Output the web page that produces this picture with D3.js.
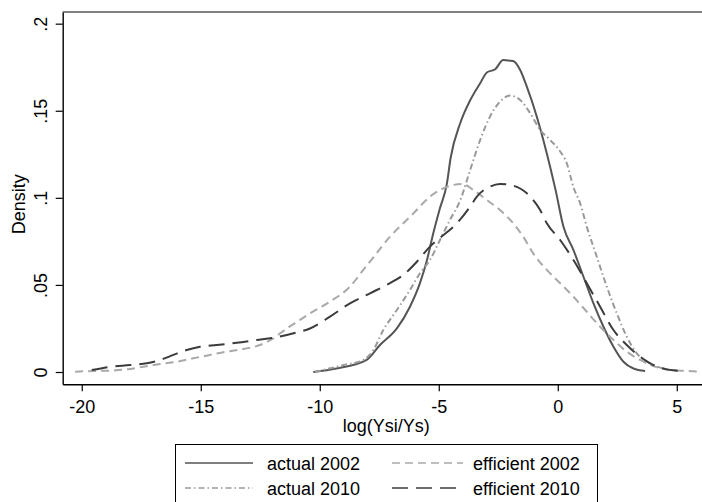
<!DOCTYPE html>
<html>
<head>
<meta charset="utf-8">
<script src="https://cdn.jsdelivr.net/npm/d3@7"></script>
<style>
  body { margin: 0; background: #fff; }
  svg { display: block; font-family: "Liberation Sans", Arial, sans-serif; }
</style>
</head>
<body>
<svg width="702" height="502"></svg>
<script>
// series (x = log(Ysi/Ys), y = density)
const actual2002X = [-10.27, -9.3, -8.03, -7.47, -6.76, -6.21, -5.79, -5.5, -5.23, -4.95, -4.66, -4.5, -4.1, -3.68, -3.26, -2.98, -2.63, -2.29, -2.08, -1.87, -1.58, -1.3, -0.88, -0.46, -0.1, 0.24, 0.66, 1.08, 1.5, 1.92, 2.34, 2.76, 3.18, 3.67];
const actual2002Y = [0, 0.002, 0.007, 0.0155, 0.025, 0.0375, 0.051, 0.064, 0.0796, 0.094, 0.108, 0.123, 0.1428, 0.156, 0.1658, 0.172, 0.1738, 0.1792, 0.1788, 0.1786, 0.1734, 0.1638, 0.1466, 0.1255, 0.105, 0.0834, 0.07, 0.0547, 0.0394, 0.026, 0.0145, 0.0059, 0.002, 0.0006];

const eff2002X = [-20.28, -19.51, -18.81, -18.11, -17.41, -16.71, -16.01, -15.31, -14.61, -13.91, -13.21, -12.51, -11.95, -11.39, -10.83, -10.41, -9.57, -8.73, -8.17, -7.61, -7.05, -6.49, -6.07, -5.37, -4.95, -4.39, -4.0, -3.55, -2.98, -2.43, -1.87, -1.45, -1.03, -0.46, 0.1, 0.66, 1.22, 1.78, 2.34, 2.9, 3.46, 4.02, 4.72, 5.42, 6.05];
const eff2002Y = [0.0002, 0.0006, 0.0008, 0.0015, 0.003, 0.0046, 0.0059, 0.0079, 0.0098, 0.0117, 0.0132, 0.0155, 0.0193, 0.025, 0.0299, 0.0337, 0.0404, 0.049, 0.0586, 0.0682, 0.0777, 0.0854, 0.091, 0.1007, 0.1045, 0.1074, 0.108, 0.1045, 0.0988, 0.093, 0.0854, 0.0777, 0.0681, 0.0586, 0.051, 0.0432, 0.0346, 0.026, 0.0184, 0.0117, 0.0069, 0.0034, 0.0011, 0.0006, 0.0002];

const actual2010X = [-10.2, -9.0, -8.17, -7.75, -7.33, -6.76, -6.21, -5.79, -5.37, -4.95, -4.53, -4.1, -3.68, -3.26, -2.85, -2.43, -2.01, -1.58, -1.16, -0.74, -0.32, 0.1, 0.38, 0.66, 0.94, 1.22, 1.64, 2.06, 2.48, 2.9, 3.32, 3.88, 4.44, 5.0];
const actual2010Y = [0, 0.004, 0.0069, 0.0126, 0.0241, 0.0356, 0.0471, 0.0567, 0.0643, 0.0758, 0.0873, 0.0985, 0.116, 0.1332, 0.1466, 0.1552, 0.1587, 0.1562, 0.1486, 0.139, 0.1332, 0.1266, 0.1198, 0.106, 0.0969, 0.0834, 0.0662, 0.049, 0.0337, 0.0203, 0.0107, 0.005, 0.002, 0.0008];

const eff2010X = [-19.58, -18.81, -17.97, -17.27, -16.71, -16.15, -15.59, -15.03, -14.33, -13.49, -12.65, -11.95, -11.1, -10.41, -9.57, -8.73, -7.89, -7.05, -6.49, -5.92, -5.37, -4.95, -4.24, -3.68, -3.4, -2.85, -2.43, -1.87, -1.3, -0.74, -0.46, 0.1, 0.66, 1.22, 1.78, 2.34, 2.9, 3.46, 4.02, 4.58, 5.28];
const eff2010Y = [0.0011, 0.003, 0.004, 0.005, 0.0069, 0.0098, 0.0126, 0.0145, 0.0155, 0.0168, 0.0184, 0.0197, 0.0222, 0.025, 0.0318, 0.0394, 0.0452, 0.051, 0.0557, 0.0633, 0.072, 0.077, 0.0854, 0.095, 0.1007, 0.1064, 0.108, 0.107, 0.1026, 0.093, 0.0854, 0.0758, 0.0643, 0.051, 0.0375, 0.0241, 0.0155, 0.0088, 0.004, 0.0015, 0.0006];

const xTicks = [-20, -15, -10, -5, 0, 5];
const yTicks = [0, 0.05, 0.1, 0.15, 0.2];
const yTickLabels = ["0", ".05", ".1", ".15", ".2"];

(() => {
    const series = [
        { name: "actual 2002", xs: actual2002X, ys: actual2002Y, color: "#555555", dash: null, width: 2 },
        { name: "efficient 2002", xs: eff2002X, ys: eff2002Y, color: "#a9a9a9", dash: "8,5", width: 2 },
        { name: "actual 2010", xs: actual2010X, ys: actual2010Y, color: "#9a9a9a", dash: "6,3,1.5,3", width: 2 },
        { name: "efficient 2010", xs: eff2010X, ys: eff2010Y, color: "#3c3c3c", dash: "16,8", width: 2 }
    ];

    let svg = d3.select("svg"),
        plotL = 62.7, plotR = 702, plotT = 12, plotB = 384.3;

    let x = d3.scaleLinear().domain([-20.8, 6.06]).range([plotL, plotR]);
    let y = d3.scaleLinear().domain([-0.00706, 0.2067]).range([plotB, plotT]);

    // top gray rule
    svg.append("line")
        .attr("x1", plotL).attr("x2", plotR)
        .attr("y1", plotT).attr("y2", plotT)
        .attr("stroke", "#808080").attr("stroke-width", 2);

    // curves
    let line = d3.line()
        .x(d => x(d[0]))
        .y(d => y(d[1]))
        .curve(d3.curveMonotoneX);

    svg.append("g")
        .selectAll("path")
        .data(series)
        .join("path")
        .attr("fill", "none")
        .attr("stroke", d => d.color)
        .attr("stroke-width", d => d.width)
        .attr("stroke-dasharray", d => d.dash)
        .attr("stroke-linejoin", "round")
        .attr("d", d => line(d.xs.map((v, i) => [v, d.ys[i]])));

    // axes
    let xAxis = svg.append("g")
        .attr("transform", `translate(0,${plotB})`)
        .call(d3.axisBottom(x).tickValues(xTicks).tickSize(7).tickSizeOuter(0));
    xAxis.select(".domain").attr("stroke", "#000").attr("stroke-width", 1.4);
    xAxis.selectAll(".tick line").attr("stroke", "#000").attr("stroke-width", 1.2);
    xAxis.selectAll(".tick text")
        .attr("font-family", "Liberation Sans, Arial, sans-serif")
        .attr("font-size", 18).attr("fill", "#000")
        .attr("y", 29).attr("dy", 0)
        .text(d => d < 0 ? "-" + Math.abs(d) : d);

    let yAxis = svg.append("g")
        .attr("transform", `translate(${plotL},0)`)
        .call(d3.axisLeft(y).tickValues(yTicks).tickSize(7).tickSizeOuter(0).tickFormat((d, i) => yTickLabels[i]));
    yAxis.select(".domain").attr("stroke", "#000").attr("stroke-width", 1.4);
    yAxis.selectAll(".tick line").attr("stroke", "#000").attr("stroke-width", 1.2);
    yAxis.selectAll(".tick text")
        .attr("font-family", "Liberation Sans, Arial, sans-serif")
        .attr("font-size", 18).attr("fill", "#000")
        .attr("transform", "rotate(-90)")
        .attr("text-anchor", "middle")
        .attr("x", 0).attr("y", -16).attr("dy", 0);

    // axis titles
    svg.append("text")
        .attr("x", (plotL + plotR) / 2 + 4).attr("y", 432)
        .attr("text-anchor", "middle").attr("font-size", 18)
        .text("log(Ysi/Ys)");
    svg.append("text")
        .attr("transform", `translate(25,${(plotT + plotB) / 2 + 6}) rotate(-90)`)
        .attr("text-anchor", "middle").attr("font-size", 18)
        .text("Density");

    // legend
    let legend = svg.append("g");
    legend.append("rect")
        .attr("x", 175.5).attr("y", 444.5).attr("width", 422).attr("height", 70)
        .attr("fill", "#fff").attr("stroke", "#000").attr("stroke-width", 1);

    let cols = [185, 392], rows = [463, 488];
    let items = legend.selectAll(".item")
        .data(series)
        .join("g")
        .attr("class", "item")
        .attr("transform", (d, i) => `translate(${cols[i % 2]},${rows[Math.floor(i / 2)]})`);
    items.append("line")
        .attr("x1", 0).attr("x2", (d, i) => i % 2 ? 71 : 68)
        .attr("y1", 0).attr("y2", 0)
        .attr("stroke", d => d.color)
        .attr("stroke-width", 1.6)
        .attr("stroke-dasharray", d => d.dash);
    items.append("text")
        .attr("x", (d, i) => i % 2 ? 81 : 82)
        .attr("y", 7)
        .attr("font-size", 18)
        .text(d => d.name);
})();
</script>
</body>
</html>
